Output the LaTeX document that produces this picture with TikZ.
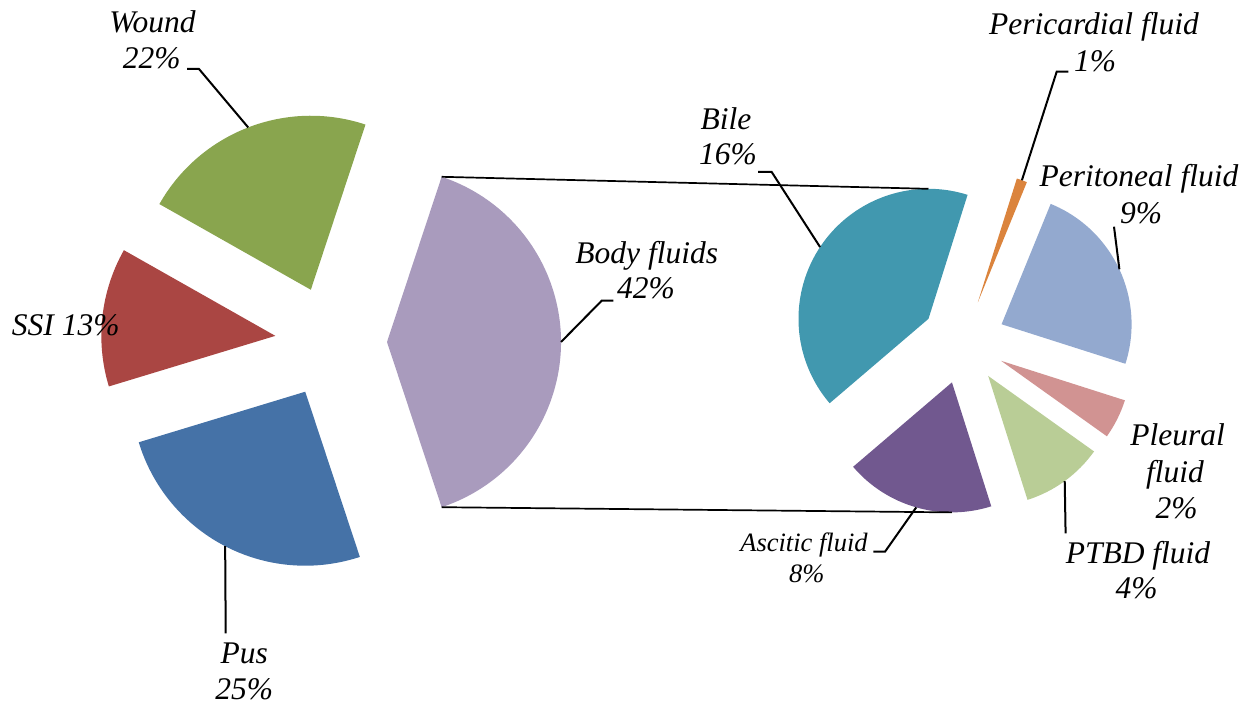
\documentclass[tikz,border=0pt]{standalone}
\usepackage{fontspec}
\setmainfont{Liberation Serif}
\usetikzlibrary{calc}
\definecolor{cPus}{HTML}{4572A7}
\definecolor{cSSI}{HTML}{AA4643}
\definecolor{cWound}{HTML}{89A54E}
\definecolor{cAsc}{HTML}{71588F}
\definecolor{cBile}{HTML}{4198AF}
\definecolor{cPeri}{HTML}{DB843D}
\definecolor{cPerit}{HTML}{93A9CF}
\definecolor{cPleu}{HTML}{D19392}
\definecolor{cPTBD}{HTML}{B9CD96}
\definecolor{cBody}{HTML}{A99BBD}
\begin{document}
\begin{tikzpicture}[x=1bp,y=1bp,
  lbl/.style={font=\fontsize{31.5bp}{36bp}\selectfont\itshape, inner sep=0pt, anchor=base},
  slbl/.style={font=\fontsize{26.5bp}{31bp}\selectfont\itshape, inner sep=0pt, anchor=base},
  leader/.style={line width=2bp, black},
  series/.style={line width=1.7bp, black}]
\useasboundingbox (0,0) rectangle (1253,-707);
% ---------- primary pie ----------
\coordinate (C1) at (331,-342);
\coordinate (bodyA)  at ([shift={(0:56)}]C1);
\coordinate (woundA) at ([shift={(111.1:56)}]C1);
\coordinate (ssiA)   at ([shift={(173.7:56)}]C1);
\coordinate (pusA)   at ([shift={(242.6:56)}]C1);
\fill[cBody]  (bodyA)  -- ++(-71.7:174) arc[start angle=-71.7, end angle=71.7, radius=174] -- cycle;
\fill[cWound] (woundA) -- ++(71.7:174) arc[start angle=71.7, end angle=150.5, radius=174] -- cycle;
\fill[cSSI]   (ssiA)   -- ++(150.5:174) arc[start angle=150.5, end angle=196.9, radius=174] -- cycle;
\fill[cPus]   (pusA)   -- ++(196.9:174) arc[start angle=196.9, end angle=288.3, radius=174] -- cycle;
\coordinate (bodyM)  at ([shift={(0:174)}]bodyA);
\coordinate (woundM) at ([shift={(111.1:174)}]woundA);
\coordinate (pusM)   at ([shift={(242.6:174)}]pusA);
\coordinate (bodyT)  at ([shift={(71.7:174)}]bodyA);
\coordinate (bodyB)  at ([shift={(-71.7:174)}]bodyA);
% ---------- secondary pie ----------
\coordinate (C2) at (963.5,-342);
\coordinate (bileA)  at ([shift={(146.5:42)}]C2);
\coordinate (ascA)   at ([shift={(254.05:42)}]C2);
\coordinate (ptbdA)  at ([shift={(306.05:42)}]C2);
\coordinate (pleuA)  at ([shift={(333.4:42)}]C2);
\coordinate (peritA) at ([shift={(25:42)}]C2);
\coordinate (periA)  at ([shift={(70.15:42)}]C2);
\fill[cBile]  (bileA)  -- ++(72.5:130) arc[start angle=72.5, end angle=220.5, radius=130] -- cycle;
\fill[cAsc]   (ascA)   -- ++(220.5:130) arc[start angle=220.5, end angle=287.6, radius=130] -- cycle;
\fill[cPTBD]  (ptbdA)  -- ++(287.6:130) arc[start angle=287.6, end angle=324.5, radius=130] -- cycle;
\fill[cPleu]  (pleuA)  -- ++(324.5:130) arc[start angle=324.5, end angle=342.3, radius=130] -- cycle;
\fill[cPerit] (peritA) -- ++(-17.7:130) arc[start angle=-17.7, end angle=67.8, radius=130] -- cycle;
\fill[cPeri]  (periA)  -- ++(67.8:130) arc[start angle=67.8, end angle=72.5, radius=130] -- cycle;
\coordinate (bileM)  at ([shift={(146.5:130)}]bileA);
\coordinate (ascM)   at ([shift={(254.05:130)}]ascA);
\coordinate (ptbdM)  at ([shift={(306.05:130)}]ptbdA);
\coordinate (peritM) at ([shift={(25:130)}]peritA);
\coordinate (periM)  at ([shift={(70.15:130)}]periA);
\coordinate (bileT)  at ([shift={(90:130)}]bileA);
\coordinate (ascB)   at ([shift={(270:130)}]ascA);
% ---------- series lines ----------
\draw[series] (bodyT) -- (bileT);
\draw[series] (bodyB) -- (ascB);
% ---------- labels ----------
\node[lbl] (woundT) at (152.5,-32.3) {Wound};
\node[lbl] (woundP) at (151.7,-68.3) {22\%};
\node[lbl] (ssiT)   at (65.8,-335) {SSI 13\%};
\node[lbl] (pusT)   at (244.2,-663.3) {Pus};
\node[lbl] (pusP)   at (244.2,-699) {25\%};
\node[lbl] (bodyL)  at (646.7,-263.3) {Body fluids};
\node[lbl] (bodyP)  at (646,-298.3) {42\%};
\node[lbl] (bileL)  at (726,-130) {Bile};
\node[lbl] (bileP)  at (728,-165) {16\%};
\node[lbl] (periL)  at (1094,-35) {Pericardial fluid};
\node[lbl] (periP)  at (1095,-71.7) {1\%};
\node[lbl] (peritL) at (1139,-186.7) {Peritoneal fluid};
\node[lbl] (peritP) at (1141,-223.3) {9\%};
\node[lbl] (pleuL)  at (1177.5,-445) {Pleural};
\node[lbl] (pleuF)  at (1175,-482.7) {fluid};
\node[lbl] (pleuP)  at (1176.7,-518.3) {2\%};
\node[lbl] (ptbdL)  at (1138,-563.3) {PTBD fluid};
\node[lbl] (ptbdP)  at (1136.7,-598.3) {4\%};
\node[slbl] (ascL)  at (804,-551.7) {Ascitic fluid};
\node[slbl] (ascP)  at (806.7,-582.7) {8\%};
% ---------- leader lines ----------
\coordinate (woundH) at (187,-69);
\coordinate (bodyH)  at (613.3,-300.7);
\coordinate (pusH)   at (225.7,-633.3);
\coordinate (bileH)  at (758,-172);
\coordinate (periH)  at (1068.3,-71.7);
\coordinate (peritH) at (1114,-226.7);
\coordinate (ptbdH)  at (1065.6,-533.3);
\coordinate (ascH)   at (873.3,-551.7);
\draw[leader] (woundH) -- ++(12,0) -- (woundM);
\draw[leader] (bodyH) -- ++(-11.6,0) -- (bodyM);
\draw[leader] (pusH) -- (pusM);
\draw[leader] (bileH) -- ++(13.7,0) -- (bileM);
\draw[leader] (periH) -- ++(-11.6,0) -- (periM);
\draw[leader] (peritH) -- (peritM);
\draw[leader] (ptbdH) -- (ptbdM);
\draw[leader] (ascH) -- ++(11.7,0) -- (ascM);
\end{tikzpicture}
\end{document}
